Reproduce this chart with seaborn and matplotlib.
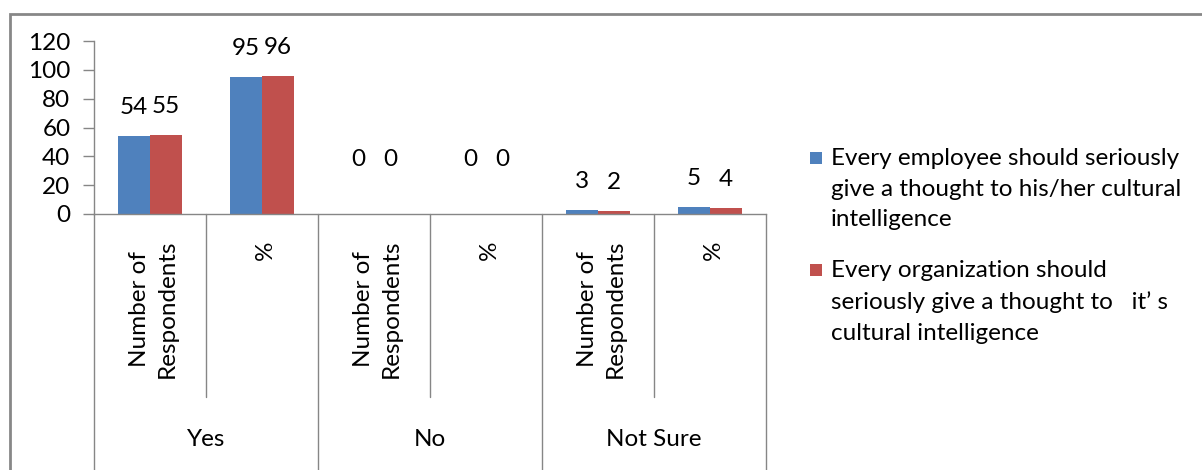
import matplotlib
matplotlib.use("Agg")
import matplotlib.pyplot as plt
import matplotlib.transforms as mtransforms
from matplotlib.patches import Rectangle
import seaborn as sns
import pandas as pd

# --- data -------------------------------------------------------------
groups = ["Yes", "No", "Not Sure"]
measures = ["Number of\nRespondents", "%"]
series_names = [
    "Every employee should seriously\ngive a thought to his/her cultural\nintelligence",
    "Every organization should\nseriously give a thought to   it\u2019 s\ncultural intelligence",
]
employee = [54, 95, 0, 0, 3, 5]
organization = [55, 96, 0, 0, 2, 4]
colors = ["#4F81BD", "#C0504D"]
yticks = [0, 20, 40, 60, 80, 100, 120]

slots = [f"{g} | {m}" for g in groups for m in measures]
df = pd.DataFrame({
    "slot": slots * 2,
    "value": employee + organization,
    "series": [series_names[0]] * len(slots) + [series_names[1]] * len(slots),
})

# --- style ------------------------------------------------------------
sns.set_theme(style="white")
plt.rcParams["font.family"] = ["Lato", "DejaVu Sans"]
FS = 17.5
GRAY = "#868686"

W, H = 1202, 470
fig = plt.figure(figsize=(W / 100, H / 100), dpi=100)
ax = fig.add_axes([94 / W, 1 - 214 / H, (766 - 94) / W, 173 / H])

sns.barplot(data=df, x="slot", y="value", hue="series", order=slots,
            hue_order=series_names, palette=colors, saturation=1,
            width=64 / 112, gap=0, linewidth=0, legend=False, ax=ax)

ax.set_xlim(-0.5, len(slots) - 0.5)
ax.set_ylim(0, 120)
ax.set_yticks(yticks)
ax.set_xlabel("")
ax.set_ylabel("")
ax.tick_params(axis="y", direction="out", length=8, width=1, color=GRAY,
               pad=9, labelsize=FS, labelcolor="black", left=True)
ax.tick_params(axis="x", length=0, labelbottom=False)
for side in ["top", "right"]:
    ax.spines[side].set_visible(False)
for side in ["left", "bottom"]:
    ax.spines[side].set_color(GRAY)
    ax.spines[side].set_linewidth(1)

# value labels above each bar
for cont in ax.containers:
    for bar in cont:
        v = bar.get_height()
        off = 13 if v > 0 else 32
        ax.annotate(f"{v:g}", (bar.get_x() + bar.get_width() / 2, v),
                    xytext=(0, off), textcoords="offset points",
                    ha="center", va="bottom", fontsize=FS, color="black")

# multi-level category axis
bt = mtransforms.blended_transform_factory(ax.transData, ax.transAxes)
px = 173.0  # pixels per axes unit (vertical)
y_bottom = -(H - 214) / px
y_inner = -(397 - 214) / px
for i in range(len(slots) + 1):
    x = i - 0.5
    y_end = y_bottom if i % 2 == 0 else y_inner
    ax.plot([x, x], [0, y_end], color=GRAY, lw=1, transform=bt, clip_on=False)

for i, s in enumerate(slots):
    m = measures[i % 2]
    ax.text(i + 0.03, -(240 - 214) / px, m, transform=bt, rotation=90,
            ha="center", va="top", multialignment="center",
            fontsize=FS, color="black", linespacing=1.45)

for j, g in enumerate(groups):
    ax.text(2 * j + 0.5, -(440 - 214) / px, g, transform=bt,
            ha="center", va="center", fontsize=FS, color="black")

# legend
for k, (name, c) in enumerate(zip(series_names, colors)):
    yc = [158, 270][k]
    fig.patches.append(Rectangle((810 / W, 1 - (yc + 6) / H), 12 / W, 12 / H,
                                 transform=fig.transFigure, facecolor=c,
                                 edgecolor="none"))
    fig.text(831 / W, 1 - (yc - 10) / H, name, ha="left", va="top",
             fontsize=FS, color="black", linespacing=1.57)

# chart frame
fig.patches.append(Rectangle((10 / W, -0.2), 1.5, 1.2 - 14 / H,
                             transform=fig.transFigure, fill=False,
                             edgecolor="#878787", linewidth=2))

fig.savefig("out.png", dpi=100)
